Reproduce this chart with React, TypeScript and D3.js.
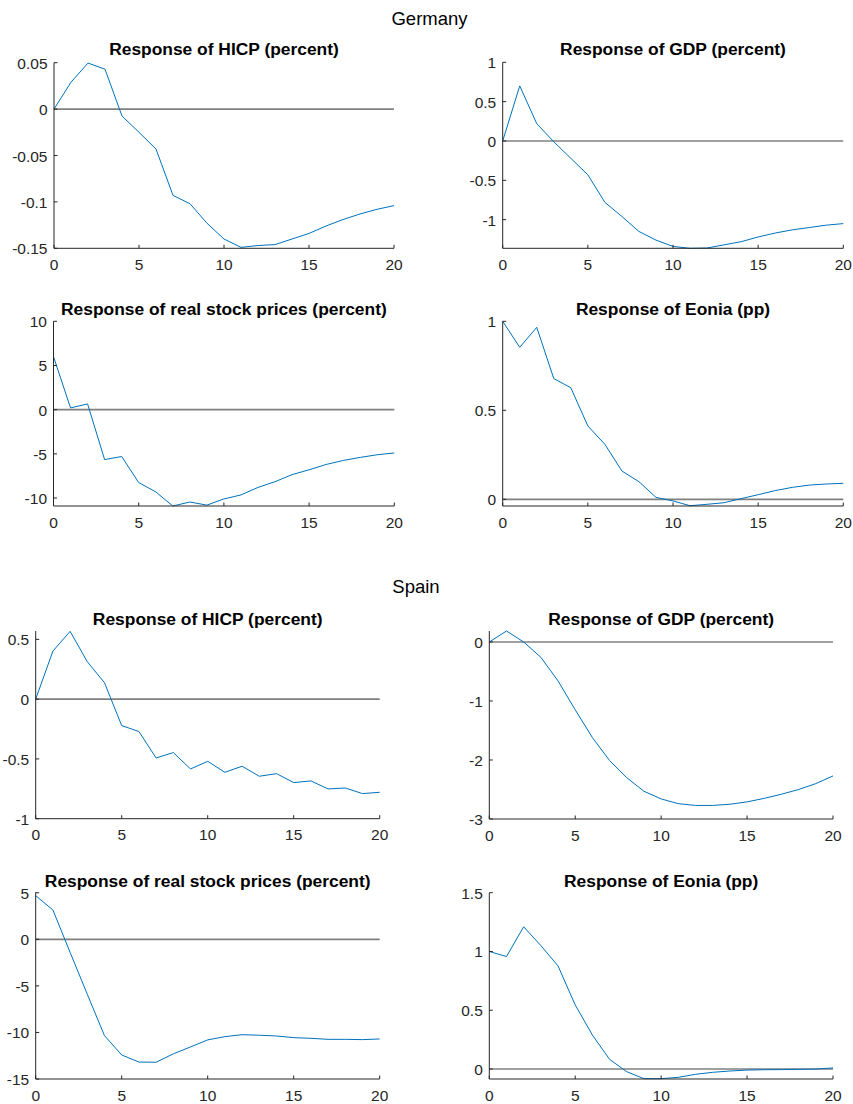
import React from "react";
import * as d3 from "d3";

// ---------- data (horizon 0..20) ----------
const horizon = d3.range(0, 21);

const deHicp = [0, 0.029, 0.0496, 0.043, -0.0075, -0.025, -0.043, -0.093, -0.102, -0.123, -0.14, -0.149, -0.147, -0.146, -0.14, -0.134, -0.126, -0.119, -0.113, -0.108, -0.104];
const deGdp = [0, 0.70, 0.22, -0.01, -0.22, -0.43, -0.78, -0.96, -1.15, -1.26, -1.34, -1.364, -1.36, -1.32, -1.28, -1.22, -1.17, -1.13, -1.10, -1.07, -1.05];
const deStock = [6.0, 0.2, 0.65, -5.65, -5.3, -8.25, -9.3, -10.9, -10.45, -10.8, -10.1, -9.65, -8.8, -8.15, -7.35, -6.8, -6.2, -5.75, -5.4, -5.1, -4.9];
const deEonia = [1.0, 0.854, 0.966, 0.678, 0.627, 0.412, 0.309, 0.159, 0.099, 0.011, -0.009, -0.036, -0.028, -0.019, 0.004, 0.026, 0.049, 0.067, 0.080, 0.086, 0.090];

const esHicp = [0, 0.402, 0.567, 0.313, 0.137, -0.221, -0.271, -0.492, -0.447, -0.584, -0.52, -0.612, -0.561, -0.645, -0.623, -0.698, -0.684, -0.751, -0.743, -0.79, -0.779];
const esGdp = [0, 0.186, 0.0, -0.26, -0.66, -1.15, -1.62, -2.01, -2.30, -2.53, -2.66, -2.74, -2.77, -2.77, -2.75, -2.71, -2.65, -2.58, -2.50, -2.40, -2.27];
const esStock = [4.69, 3.15, -1.4, -5.9, -10.35, -12.42, -13.18, -13.2, -12.3, -11.56, -10.8, -10.45, -10.24, -10.3, -10.38, -10.56, -10.63, -10.74, -10.74, -10.77, -10.7];
const esEonia = [1.0, 0.957, 1.21, 1.05, 0.877, 0.545, 0.289, 0.082, -0.023, -0.082, -0.082, -0.071, -0.045, -0.028, -0.017, -0.009, -0.006, -0.005, -0.003, 0.0, 0.009];

const xTicks = [0, 5, 10, 15, 20];

const titles = {
  hicp: "Response of HICP (percent)",
  gdp: "Response of GDP (percent)",
  stock: "Response of real stock prices (percent)",
  eonia: "Response of Eonia (pp)",
};

const countryTitles = ["Germany", "Spain"];

// y-limits and ticks
const yDomains = {
  deHicp: [-0.15, 0.05], deGdp: [-1.364, 1], deStock: [-10.9, 10], deEonia: [-0.0375, 1],
  esHicp: [-1, 0.57], esGdp: [-3, 0.186], esStock: [-15, 5.05], esEonia: [-0.085, 1.5],
};
const yTicks = {
  deHicp: [-0.15, -0.1, -0.05, 0, 0.05], deGdp: [-1, -0.5, 0, 0.5, 1], deStock: [-10, -5, 0, 5, 10], deEonia: [0, 0.5, 1],
  esHicp: [-1, -0.5, 0, 0.5], esGdp: [-3, -2, -1, 0], esStock: [-15, -10, -5, 0, 5], esEonia: [0, 0.5, 1, 1.5],
};

// ---------- layout ----------
type Panel = { key: string; title: string; values: number[]; x0: number; x1: number; yTop: number; yBot: number; titleY: number };

const panels: Panel[] = [
  { key: "deHicp", title: titles.hicp, values: deHicp, x0: 54, x1: 394, yTop: 62.7, yBot: 248.3, titleY: 55 },
  { key: "deGdp", title: titles.gdp, values: deGdp, x0: 502.7, x1: 843.3, yTop: 62.3, yBot: 248.3, titleY: 55 },
  { key: "deStock", title: titles.stock, values: deStock, x0: 53.5, x1: 394.3, yTop: 321.3, yBot: 506, titleY: 315 },
  { key: "deEonia", title: titles.eonia, values: deEonia, x0: 502.7, x1: 843.3, yTop: 321.3, yBot: 506, titleY: 315 },
  { key: "esHicp", title: titles.hicp, values: esHicp, x0: 35.7, x1: 379.7, yTop: 631, yBot: 818.7, titleY: 625 },
  { key: "esGdp", title: titles.gdp, values: esGdp, x0: 489.3, x1: 833, yTop: 631, yBot: 819, titleY: 625 },
  { key: "esStock", title: titles.stock, values: esStock, x0: 35.7, x1: 379.7, yTop: 892.3, yBot: 1079, titleY: 887 },
  { key: "esEonia", title: titles.eonia, values: esEonia, x0: 489.3, x1: 833, yTop: 892.7, yBot: 1079, titleY: 887 },
];

const AX = "#262626";
const FONT = "'Liberation Sans', Arial, Helvetica, sans-serif";

function fmt(v: number) {
  return String(v);
}

function PanelView({ p }: { p: Panel }) {
  const dom = (yDomains as any)[p.key] as number[];
  const ticks = (yTicks as any)[p.key] as number[];
  const x = d3.scaleLinear().domain([0, 20]).range([p.x0, p.x1]);
  const y = d3.scaleLinear().domain(dom).range([p.yBot, p.yTop]);
  const line = d3.line<number>().x((_, i) => x(horizon[i])).y((d) => y(d));
  const tl = 3.5;
  return (
    <g>
      <line x1={x(0)} x2={x(20)} y1={y(0)} y2={y(0)} stroke="#808080" strokeWidth={1.7} />
      <path d={line(p.values) || ""} fill="none" stroke="#0072BD" strokeWidth={1} />
      <line x1={p.x0} x2={p.x0} y1={p.yTop} y2={p.yBot} stroke={AX} strokeWidth={1} />
      <line x1={p.x0} x2={p.x1} y1={p.yBot} y2={p.yBot} stroke={AX} strokeWidth={1} />
      {xTicks.map((t) => (
        <g key={"x" + t}>
          <line x1={x(t)} x2={x(t)} y1={p.yBot} y2={p.yBot - tl} stroke={AX} strokeWidth={1} />
          <text x={x(t)} y={p.yBot + 21.5} textAnchor="middle" fontSize={15.5} fill={AX} fontFamily={FONT}>
            {fmt(t)}
          </text>
        </g>
      ))}
      {ticks.map((t) => (
        <g key={"y" + t}>
          <line x1={p.x0} x2={p.x0 + tl} y1={y(t)} y2={y(t)} stroke={AX} strokeWidth={1} />
          <text x={p.x0 - 6.5} y={y(t) + 6} textAnchor="end" fontSize={15.5} fill={AX} fontFamily={FONT}>
            {fmt(t)}
          </text>
        </g>
      ))}
      <text x={(p.x0 + p.x1) / 2} y={p.titleY} textAnchor="middle" fontSize={17.4} fontWeight="bold" fill="#000" fontFamily={FONT}>
        {p.title}
      </text>
    </g>
  );
}

export default function App() {
  return (
    <svg width={853} height={1104} style={{ position: "absolute", left: 0, top: 0, background: "#fff" }}>
      <rect x={0} y={0} width={853} height={1104} fill="#fff" />
      <text x={429.5} y={25} textAnchor="middle" fontSize={18.5} fill="#000" fontFamily={FONT}>
        {countryTitles[0]}
      </text>
      <text x={416} y={593} textAnchor="middle" fontSize={18.5} fill="#000" fontFamily={FONT}>
        {countryTitles[1]}
      </text>
      {panels.map((p) => (
        <PanelView key={p.key} p={p} />
      ))}
    </svg>
  );
}
